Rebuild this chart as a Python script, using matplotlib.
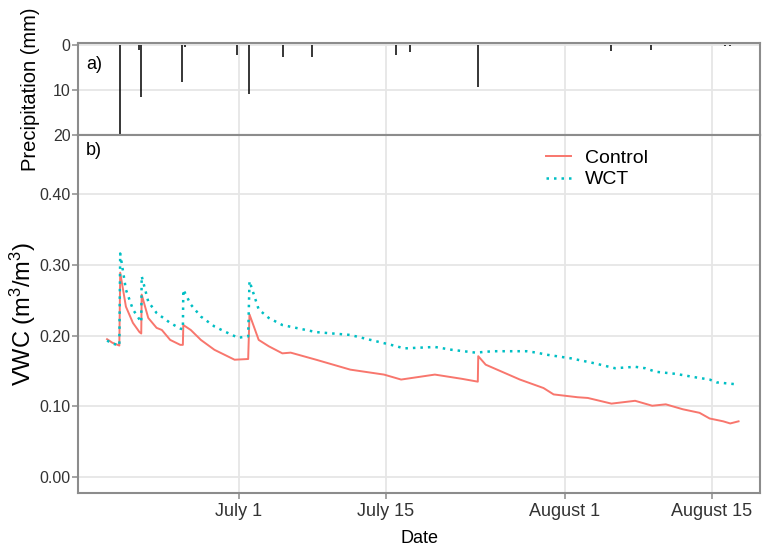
import matplotlib
matplotlib.use("Agg")
import matplotlib.pyplot as plt
import matplotlib.dates as mdates
import pandas as pd

plt.rcParams['font.family'] = ['Liberation Sans', 'DejaVu Sans']
plt.rcParams['mathtext.fontset'] = 'custom'
plt.rcParams['mathtext.rm'] = 'Liberation Sans'
plt.rcParams['mathtext.default'] = 'regular'

# hourly rainfall events (mm)
rain_time = ["2019-06-19 17:00", "2019-06-21 12:00", "2019-06-21 18:00",
             "2019-06-25 15:00", "2019-06-25 22:00", "2019-06-30 20:00",
             "2019-07-02 01:00", "2019-07-05 06:00", "2019-07-07 23:00",
             "2019-07-16 00:00", "2019-07-17 07:00", "2019-07-23 19:00",
             "2019-08-05 10:00", "2019-08-09 05:00", "2019-08-16 07:00",
             "2019-08-16 17:00"]
rain_mm = [20.0, 1.2, 11.5, 8.3, 0.4, 2.2, 10.9, 2.7, 2.6,
           2.2, 1.5, 9.4, 1.3, 1.1, 0.3, 0.3]

# soil volumetric water content, control plots
ctrl_time = ["2019-06-18 12:00", "2019-06-19 00:00", "2019-06-19 16:00", "2019-06-19 18:00",
             "2019-06-20 07:00", "2019-06-20 23:00", "2019-06-21 14:00", "2019-06-21 18:00",
             "2019-06-21 19:00", "2019-06-22 10:00", "2019-06-23 05:00", "2019-06-23 17:00",
             "2019-06-24 12:00", "2019-06-25 11:00", "2019-06-25 17:00", "2019-06-25 18:00",
             "2019-06-26 11:00", "2019-06-27 10:00", "2019-06-28 17:00", "2019-06-29 16:00",
             "2019-06-30 15:00", "2019-07-01 22:00", "2019-07-02 01:00", "2019-07-02 22:00",
             "2019-07-03 21:00", "2019-07-05 04:00", "2019-07-05 23:00", "2019-07-08 09:00",
             "2019-07-11 15:00", "2019-07-14 20:00", "2019-07-16 11:00", "2019-07-19 16:00",
             "2019-07-22 06:00", "2019-07-23 18:00", "2019-07-23 19:00", "2019-07-24 12:00",
             "2019-07-27 18:00", "2019-07-30 00:00", "2019-07-30 23:00", "2019-08-02 06:00",
             "2019-08-03 05:00", "2019-08-05 11:00", "2019-08-07 17:00", "2019-08-09 08:00",
             "2019-08-10 15:00", "2019-08-12 06:00", "2019-08-13 20:00", "2019-08-14 19:00",
             "2019-08-16 02:00", "2019-08-16 18:00", "2019-08-17 13:00"]
ctrl_vwc = [0.195, 0.190, 0.186, 0.289,
            0.241, 0.218, 0.205, 0.203,
            0.258, 0.225, 0.211, 0.208,
            0.194, 0.187, 0.187, 0.215,
            0.208, 0.194, 0.180, 0.173,
            0.166, 0.167, 0.230, 0.194,
            0.185, 0.175, 0.176, 0.166,
            0.152, 0.145, 0.138, 0.145,
            0.139, 0.135, 0.171, 0.159,
            0.138, 0.126, 0.117, 0.113,
            0.112, 0.104, 0.108, 0.101,
            0.103, 0.096, 0.091, 0.083,
            0.079, 0.076, 0.079]

# soil volumetric water content, WCT plots
wct_time = ["2019-06-18 12:00", "2019-06-19 00:00", "2019-06-19 16:00", "2019-06-19 18:00",
            "2019-06-20 07:00", "2019-06-20 23:00", "2019-06-21 18:00", "2019-06-21 19:00",
            "2019-06-22 10:00", "2019-06-23 05:00", "2019-06-24 12:00", "2019-06-25 11:00",
            "2019-06-25 17:00", "2019-06-25 18:00", "2019-06-26 11:00", "2019-06-27 10:00",
            "2019-06-28 17:00", "2019-06-29 16:00", "2019-06-30 23:00", "2019-07-01 22:00",
            "2019-07-02 01:00", "2019-07-02 22:00", "2019-07-03 21:00", "2019-07-05 04:00",
            "2019-07-08 09:00", "2019-07-11 15:00", "2019-07-13 13:00", "2019-07-15 12:00",
            "2019-07-16 18:00", "2019-07-19 16:00", "2019-07-21 07:00", "2019-07-23 13:00",
            "2019-07-25 04:00", "2019-07-28 09:00", "2019-07-29 08:00", "2019-07-30 08:00",
            "2019-08-01 14:00", "2019-08-03 20:00", "2019-08-05 19:00", "2019-08-07 17:00",
            "2019-08-08 16:00", "2019-08-09 16:00", "2019-08-11 14:00", "2019-08-13 12:00",
            "2019-08-14 19:00", "2019-08-15 11:00", "2019-08-17 13:00"]
wct_vwc = [0.193, 0.189, 0.186, 0.316,
           0.265, 0.237, 0.219, 0.284,
           0.248, 0.232, 0.218, 0.210,
           0.209, 0.265, 0.244, 0.227,
           0.213, 0.206, 0.197, 0.199,
           0.277, 0.237, 0.225, 0.215,
           0.205, 0.201, 0.194, 0.187,
           0.182, 0.184, 0.180, 0.176,
           0.178, 0.178, 0.176, 0.173,
           0.168, 0.161, 0.154, 0.156,
           0.154, 0.149, 0.146, 0.141,
           0.138, 0.134, 0.131]

tick_dates = ["2019-07-01", "2019-07-15", "2019-08-01", "2019-08-15"]
tick_labels = ["July 1", "July 15", "August 1", "August 15"]

border = '#8c8c8c'
grid = '#e6e6e6'

fig = plt.figure(figsize=(7.62, 5.48), dpi=100)
ax1 = fig.add_axes([0.1024, 0.7536, 0.895, 0.1679])
ax2 = fig.add_axes([0.1024, 0.1004, 0.895, 0.6533])

xlim = (mdates.date2num(pd.Timestamp("2019-06-15 17:45")),
        mdates.date2num(pd.Timestamp("2019-08-19 14:00")))
xt = pd.to_datetime(tick_dates)

for ax in (ax1, ax2):
    ax.set_xlim(xlim)
    ax.set_xticks(xt)
    ax.grid(True, color=grid, lw=1.3)
    ax.set_axisbelow(True)
    for s in ax.spines.values():
        s.set_color(border)
        s.set_linewidth(1.5)
    ax.tick_params(color=border, length=4, width=1.1, labelcolor='#333333')
    ax.tick_params(axis='y', labelsize=11.5, pad=1.5)

# a) rainfall, drawn downward from the top
ax1.vlines(pd.to_datetime(rain_time), 0, rain_mm, color='black', lw=1.1)
ax1.set_ylim(20, -0.45)
ax1.set_yticks([0, 10, 20])
ax1.tick_params(axis='x', bottom=False, labelbottom=False)
ax1.set_ylabel("Precipitation (mm)", fontsize=14.5, labelpad=9)
ax1.text(0.012, 0.72, "a)", transform=ax1.transAxes, fontsize=13)

# b) soil moisture
ax2.plot(pd.to_datetime(ctrl_time), ctrl_vwc, color='#F8766D', lw=1.4, label='Control')
ax2.plot(pd.to_datetime(wct_time), wct_vwc, color='#00BFC4', lw=1.8, ls=(0, (1, 2)), label='WCT')
ax2.set_ylim(-0.0222, 0.4834)
ax2.set_yticks([0.0, 0.1, 0.2, 0.3, 0.4])
ax2.set_yticklabels(["0.00", "0.10", "0.20", "0.30", "0.40"])
ax2.set_xticklabels(tick_labels)
ax2.tick_params(axis='x', labelsize=13)
ax2.set_ylabel("VWC (m$^3$/m$^3$)", fontsize=17, labelpad=1)
ax2.set_xlabel("Date", fontsize=13, labelpad=7)
ax2.text(0.012, 0.945, "b)", transform=ax2.transAxes, fontsize=13)
ax2.legend(loc='upper left', bbox_to_anchor=(0.66, 1.009), frameon=False,
           fontsize=14, handlelength=1.3, handletextpad=0.7, labelspacing=0.2)

fig.savefig("out.png", dpi=100)
